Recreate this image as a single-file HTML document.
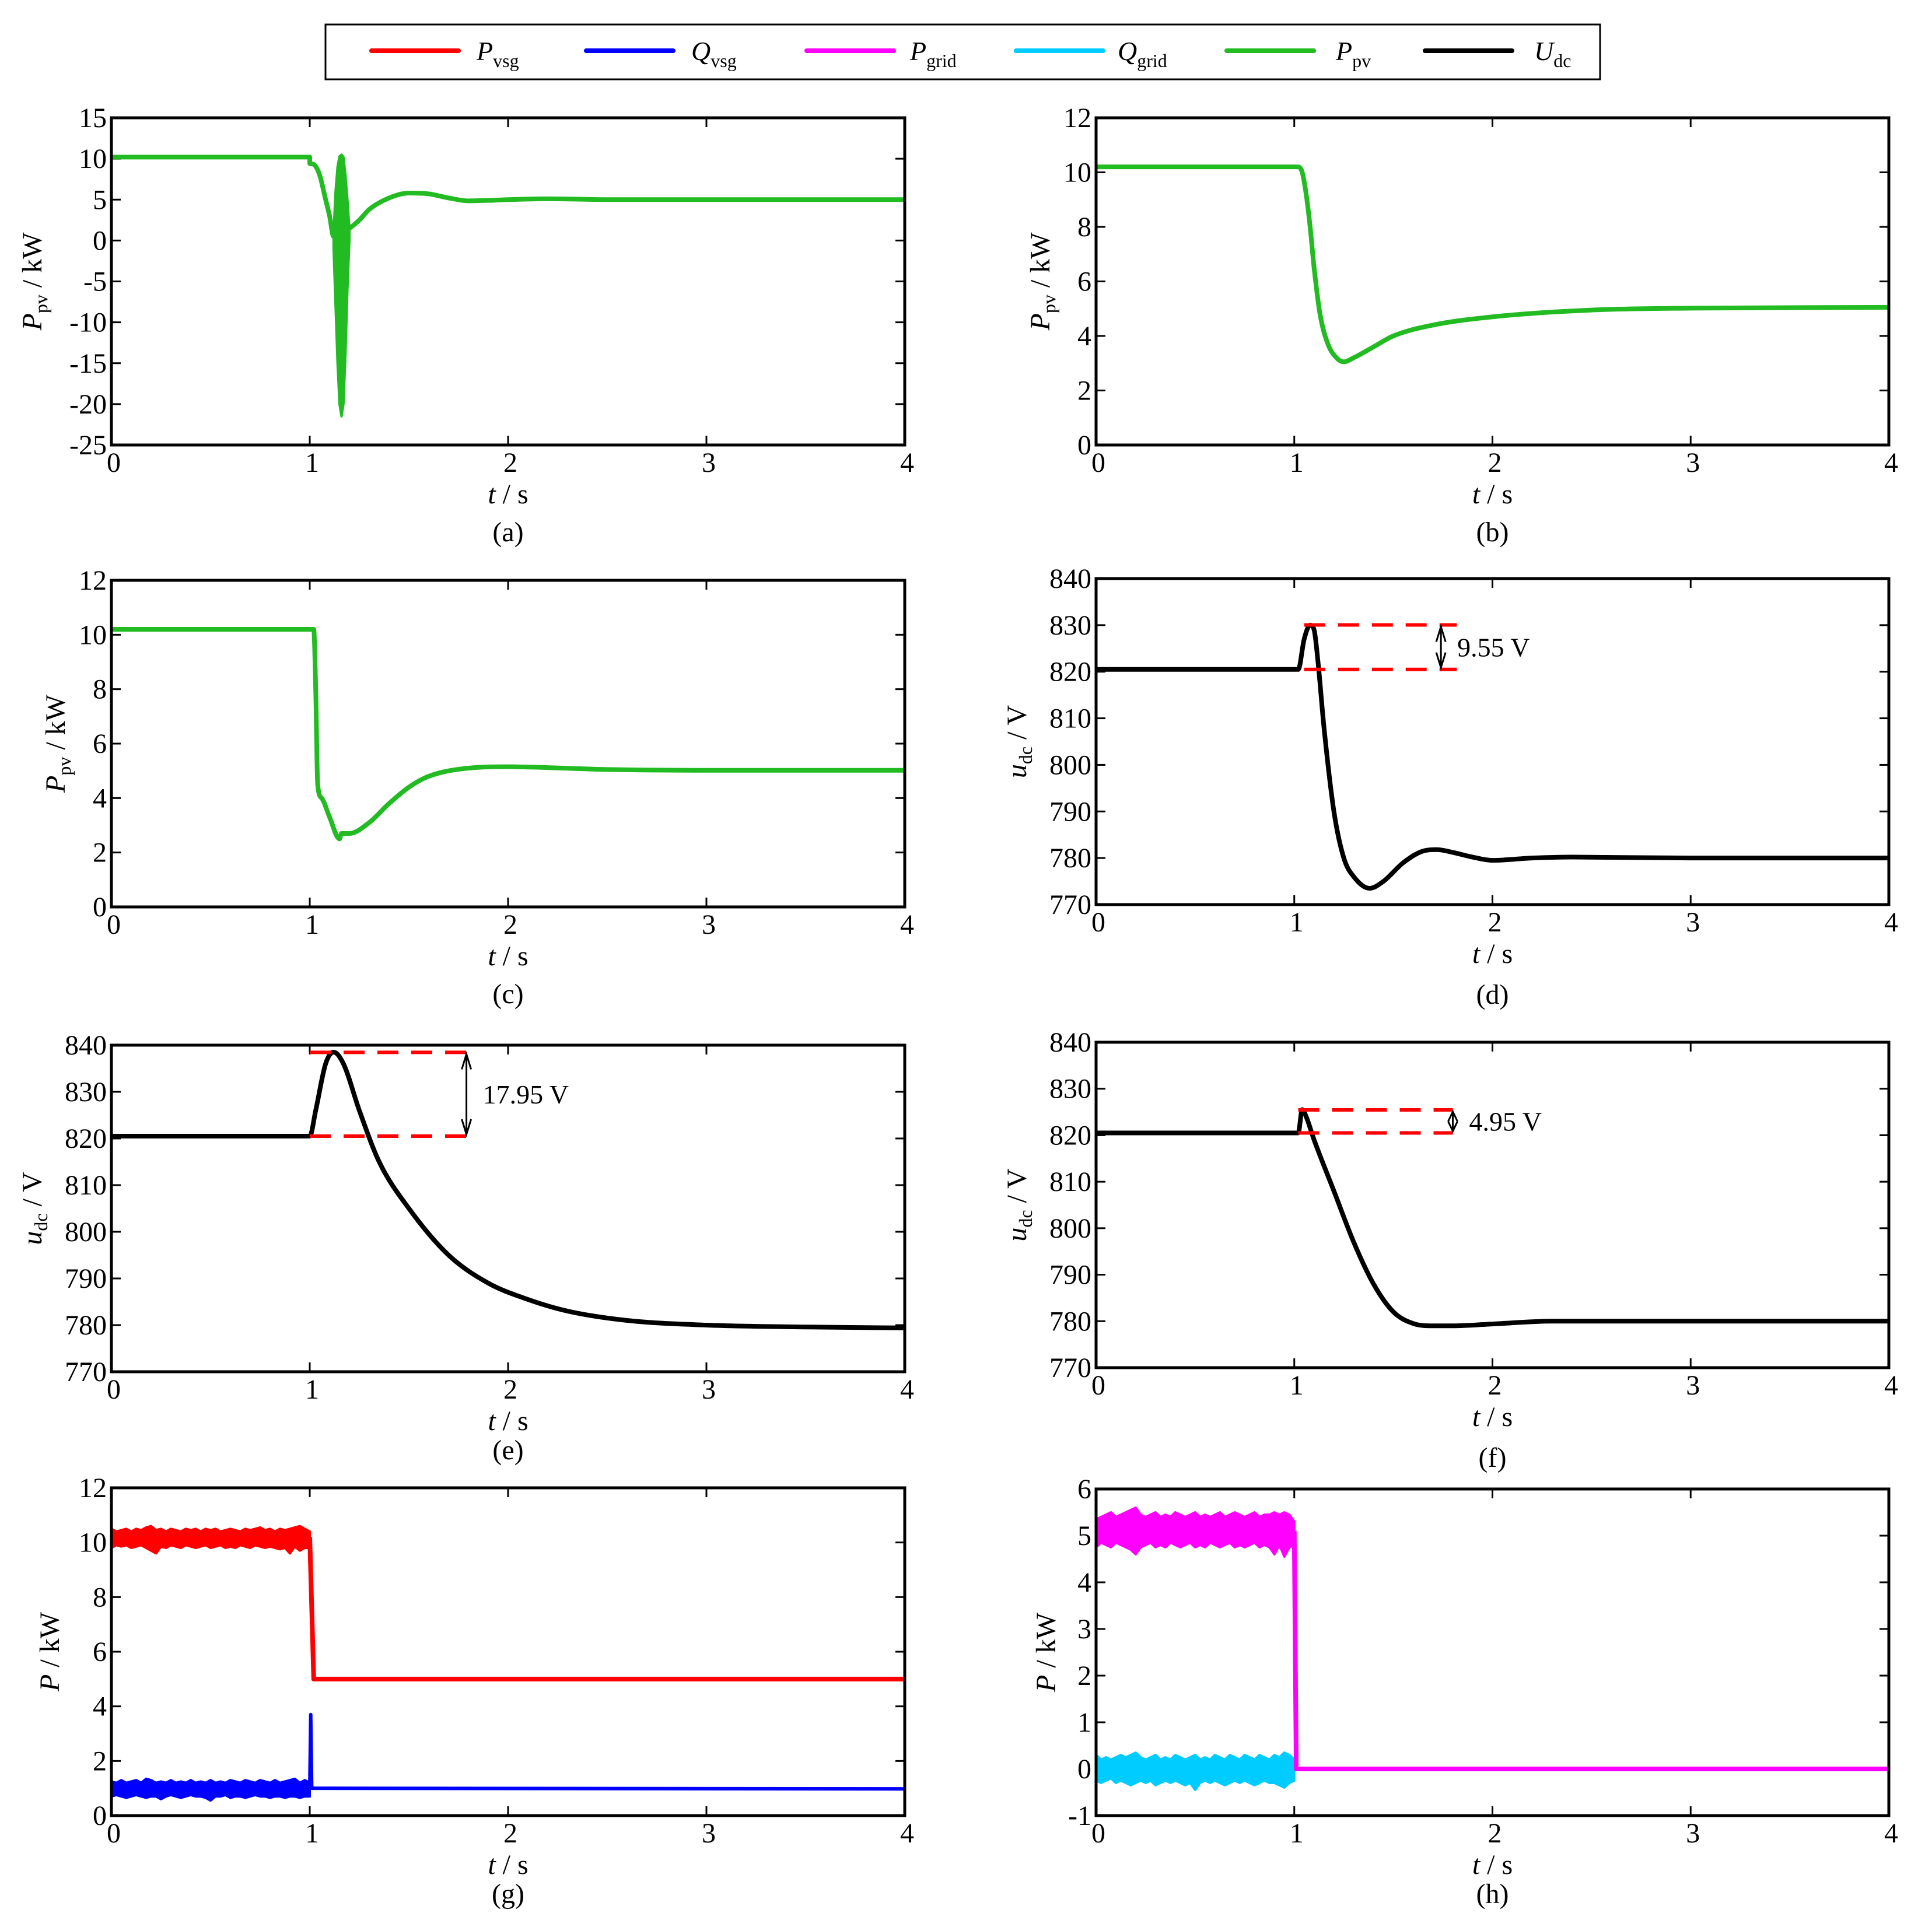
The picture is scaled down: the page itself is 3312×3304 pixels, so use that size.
<!DOCTYPE html>
<html><head><meta charset="utf-8"><style>
html,body{margin:0;padding:0;background:#fff;}
svg{display:block;font-family:"Liberation Serif",serif;}
svg text{font-family:"Liberation Serif",serif;}
</style></head><body>
<svg id="fig" width="3312" height="3304" viewBox="0 0 3312 3304" xmlns="http://www.w3.org/2000/svg" font-family="Liberation Serif, serif">
<g>
<rect x="558" y="42" width="2185" height="94" fill="#fff" stroke="#000" stroke-width="3"/>
<line x1="637" y1="87" x2="786" y2="87" stroke="#ff0000" stroke-width="8" stroke-linecap="round"/>
<text x="817" y="103" font-size="46" font-style="italic">P<tspan font-size="32" font-style="normal" dy="12">vsg</tspan></text>
<line x1="1005" y1="87" x2="1154" y2="87" stroke="#0000ff" stroke-width="8" stroke-linecap="round"/>
<text x="1185" y="103" font-size="46" font-style="italic">Q<tspan font-size="32" font-style="normal" dy="12">vsg</tspan></text>
<line x1="1383" y1="87" x2="1532" y2="87" stroke="#ff00ff" stroke-width="8" stroke-linecap="round"/>
<text x="1560" y="103" font-size="46" font-style="italic">P<tspan font-size="32" font-style="normal" dy="12">grid</tspan></text>
<line x1="1742" y1="87" x2="1891" y2="87" stroke="#00ccff" stroke-width="8" stroke-linecap="round"/>
<text x="1916" y="103" font-size="46" font-style="italic">Q<tspan font-size="32" font-style="normal" dy="12">grid</tspan></text>
<line x1="2103" y1="87" x2="2252" y2="87" stroke="#22bb22" stroke-width="8" stroke-linecap="round"/>
<text x="2290" y="103" font-size="46" font-style="italic">P<tspan font-size="32" font-style="normal" dy="12">pv</tspan></text>
<line x1="2443" y1="87" x2="2592" y2="87" stroke="#000" stroke-width="8" stroke-linecap="round"/>
<text x="2630" y="103" font-size="46" font-style="italic">U<tspan font-size="32" font-style="normal" dy="12">dc</tspan></text>
</g>
</svg>
<script>
// ---- data ----
const xTicks = [0,1,2,3,4];
const aT = [0,1.0,1.0,1.02,1.05,1.08,1.1,1.12,1.2,1.25,1.3,1.4,1.5,1.6,1.7,1.8,1.9,2.0,2.2,2.5,3,4];
const aV = [10.2,10.2,9.4,9.3,8,5,3,0.5,1.5,2.5,3.8,5.2,5.8,5.7,5.2,4.85,4.9,5.0,5.1,5.0,5.0,5.0];
const aBandT = [1.12,1.13,1.14,1.15,1.16,1.17,1.18,1.19,1.2];
const aBandHi = [1,6,9,10.3,10.5,10.2,8,5,1.5];
const aBandLo = [-1,-8,-15,-20,-21.5,-20,-14,-6,0];
const bT = [0,1.02,1.04,1.06,1.08,1.1,1.13,1.17,1.22,1.25,1.3,1.4,1.5,1.7,2.0,2.5,3,4];
const bV = [10.2,10.2,10.0,9.2,8,6.5,4.8,3.7,3.15,3.05,3.2,3.6,4.0,4.4,4.7,4.95,5.02,5.05];
const cT = [0,1.02,1.03,1.04,1.06,1.1,1.15,1.16,1.2,1.3,1.4,1.5,1.6,1.8,2.0,2.5,3,4];
const cV = [10.2,10.2,8,4.5,4.0,3.3,2.5,2.7,2.7,3.1,3.8,4.4,4.8,5.1,5.15,5.05,5.02,5.02];
const dT = [0,1.02,1.05,1.08,1.1,1.12,1.15,1.2,1.25,1.3,1.38,1.45,1.55,1.65,1.72,1.8,1.9,2.0,2.2,2.4,3,4];
const dV = [820.5,820.5,827,830,829,822,808,790,780,776,773.5,775,779,781.5,781.8,781.2,780.2,779.5,780,780.2,780,780];
const eT = [0,1.0,1.03,1.08,1.12,1.17,1.25,1.35,1.5,1.7,1.9,2.1,2.3,2.6,3,3.5,4];
const eV = [820.5,820.5,826,836,838.5,836,826,815,805,795,789,785.5,783,781,780,779.6,779.4];
const fT = [0,1.02,1.04,1.06,1.1,1.2,1.3,1.4,1.5,1.6,1.7,1.8,2.0,2.3,4];
const fV = [820.5,820.5,825.5,824,819,808,797,788,782,779.5,779,779,779.4,780,780];
const noiseT = [0,0.025,0.05,0.075,0.1,0.125,0.15,0.175,0.2,0.225,0.25,0.275,0.3,0.325,0.35,0.375,0.4,0.425,0.45,0.475,0.5,0.525,0.55,0.575,0.6,0.625,0.65,0.675,0.7,0.725,0.75,0.775,0.8,0.825,0.85,0.875,0.9,0.925,0.95,0.975,1.0];
const gPHi = [10.5,10.4,10.45,10.5,10.4,10.5,10.45,10.55,10.6,10.45,10.5,10.4,10.5,10.45,10.4,10.5,10.45,10.5,10.4,10.5,10.45,10.5,10.4,10.45,10.5,10.45,10.4,10.5,10.45,10.5,10.55,10.45,10.5,10.4,10.5,10.45,10.5,10.55,10.6,10.5,10.4];
const gPLo = [9.8,9.9,9.85,9.9,9.8,9.85,9.9,9.8,9.7,9.6,9.85,9.8,9.9,9.85,9.8,9.9,9.85,9.8,9.85,9.9,9.8,9.85,9.9,9.8,9.85,9.8,9.9,9.85,9.8,9.9,9.85,9.8,9.85,9.8,9.75,9.8,9.6,9.85,9.7,9.8,9.8];
const gPT = [1.0,1.02,4];
const gPV = [10.2,5.0,5.0];
const gQHi = [1.25,1.2,1.3,1.2,1.25,1.3,1.2,1.35,1.3,1.2,1.25,1.2,1.3,1.2,1.25,1.2,1.3,1.2,1.25,1.2,1.3,1.2,1.25,1.2,1.3,1.25,1.2,1.3,1.25,1.2,1.3,1.25,1.2,1.3,1.2,1.25,1.3,1.35,1.2,1.3,1.2];
const gQLo = [0.7,0.75,0.7,0.65,0.7,0.75,0.7,0.65,0.7,0.7,0.6,0.7,0.75,0.7,0.65,0.7,0.75,0.7,0.7,0.65,0.55,0.7,0.7,0.75,0.65,0.7,0.7,0.65,0.7,0.75,0.7,0.7,0.65,0.7,0.7,0.65,0.7,0.7,0.65,0.7,0.7];
const gQT = [1.0,1.005,1.01,1.02,4];
const gQV = [1.0,3.7,1.0,1.0,0.98];
const hPHi = [5.35,5.4,5.45,5.5,5.4,5.45,5.5,5.55,5.6,5.45,5.4,5.45,5.5,5.4,5.45,5.4,5.5,5.45,5.4,5.45,5.5,5.4,5.45,5.4,5.45,5.5,5.4,5.45,5.5,5.45,5.4,5.45,5.5,5.4,5.45,5.45,5.5,5.45,5.5,5.45,5.3];
const hPLo = [4.75,4.85,4.8,4.75,4.85,4.8,4.75,4.7,4.6,4.75,4.8,4.85,4.75,4.8,4.75,4.85,4.8,4.75,4.8,4.85,4.75,4.8,4.75,4.85,4.8,4.75,4.8,4.85,4.75,4.8,4.75,4.8,4.85,4.75,4.8,4.75,4.6,4.8,4.55,4.75,4.8];
const hQHi = [0.3,0.2,0.25,0.2,0.25,0.3,0.25,0.3,0.35,0.25,0.2,0.25,0.3,0.2,0.25,0.2,0.3,0.25,0.2,0.25,0.3,0.2,0.25,0.2,0.3,0.25,0.2,0.3,0.25,0.2,0.3,0.25,0.2,0.3,0.25,0.2,0.3,0.25,0.35,0.3,0.2];
const hQLo = [-0.25,-0.3,-0.25,-0.2,-0.3,-0.25,-0.3,-0.35,-0.3,-0.25,-0.3,-0.25,-0.35,-0.3,-0.25,-0.3,-0.25,-0.3,-0.35,-0.3,-0.45,-0.3,-0.25,-0.3,-0.25,-0.3,-0.35,-0.3,-0.25,-0.3,-0.25,-0.3,-0.35,-0.3,-0.25,-0.3,-0.3,-0.35,-0.4,-0.3,-0.25];
const hT = [1.0,1.01,4];
const hV = [5.1,0,0];

const NS = 'http://www.w3.org/2000/svg';
const svg = document.getElementById('fig');
const FF = '"Liberation Serif", serif';
function mk(tag, attrs, parent){ const e=document.createElementNS(NS,tag); for(const k in attrs) e.setAttribute(k,attrs[k]); if(tag==='text') e.style.fontFamily=FF; (parent||svg).appendChild(e); return e; }

function panel(o){
  const g = mk('g',{});
  
  
  const X = t => o.x0 + (t/4)*(o.x1-o.x0);
  const Y = v => o.y1 - (v-o.ymin)/(o.ymax-o.ymin)*(o.y1-o.y0);
  o.X=X; o.Y=Y; o.g=g;
  xTicks.forEach(t=>{
    mk('line',{x1:X(t),y1:o.y1,x2:X(t),y2:o.y1-16,stroke:'#000','stroke-width':3},g);
    mk('line',{x1:X(t),y1:o.y0,x2:X(t),y2:o.y0+16,stroke:'#000','stroke-width':3},g);
    const tx = mk('text',{x:X(t)+4,y:o.y1+46,'font-size':48,'text-anchor':'middle'},g);
    
    
    tx.textContent = t;
  });
  o.yTicks.forEach(v=>{
    mk('line',{x1:o.x0,y1:Y(v),x2:o.x0+16,y2:Y(v),stroke:'#000','stroke-width':3},g);
    mk('line',{x1:o.x1,y1:Y(v),x2:o.x1-16,y2:Y(v),stroke:'#000','stroke-width':3},g);
    const ty = mk('text',{x:o.x0-8,y:Y(v)+16,'font-size':48,'text-anchor':'end'},g);
    
    
    ty.textContent = v;
  });
  const xl = mk('text',{x:(o.x0+o.x1)/2,y:o.y1+100,'font-size':48,'text-anchor':'middle'},g);
  
  
  xl.innerHTML = '<tspan font-style="italic">t</tspan> / s';
  const cap = mk('text',{x:(o.x0+o.x1)/2,y:o.y1+(o.capdy||165),'font-size':48,'text-anchor':'middle'},g);
  
  
  cap.textContent = '('+o.id+')';
  const yl = mk('text',{transform:`translate(${o.x0-o.ylOff},${(o.y0+o.y1)/2}) rotate(-90)`,'font-size':48,'text-anchor':'middle'},g);
  
  
  yl.innerHTML = o.ylab;
  return o;
}
function frame(o){
  const r = mk('rect',{x:o.x0,y:o.y0,width:o.x1-o.x0,height:o.y1-o.y0,fill:'none',stroke:'#000','stroke-width':5},o.g);
  
  
}
// monotone cubic (Fritsch-Carlson) on x-monotone runs; vertical jumps drawn straight
function monoSeg(P){
  const n=P.length; if(n<2) return '';
  if(n===2) return ` L${P[1][0]},${P[1][1]}`;
  const d=[],m=[];
  for(let i=0;i<n-1;i++) d.push((P[i+1][1]-P[i][1])/(P[i+1][0]-P[i][0]));
  m[0]=d[0]; m[n-1]=d[n-2];
  for(let i=1;i<n-1;i++) m[i]=(d[i-1]*d[i]<=0)?0:(d[i-1]+d[i])/2;
  for(let i=0;i<n-1;i++){
    if(d[i]===0){m[i]=0;m[i+1]=0;continue;}
    const a=m[i]/d[i], b=m[i+1]/d[i], s=a*a+b*b;
    if(s>9){const t=3/Math.sqrt(s); m[i]=t*a*d[i]; m[i+1]=t*b*d[i];}
  }
  let s='';
  for(let i=0;i<n-1;i++){
    const h=(P[i+1][0]-P[i][0])/3;
    s+=` C${P[i][0]+h},${P[i][1]+m[i]*h} ${P[i+1][0]-h},${P[i+1][1]-m[i+1]*h} ${P[i+1][0]},${P[i+1][1]}`;
  }
  return s;
}
function smoothPath(P){
  let d='M'+P[0][0]+','+P[0][1];
  let run=[P[0]];
  for(let i=1;i<P.length;i++){
    if(P[i][0]-P[i-1][0]<0.5){ d+=monoSeg(run); d+=` L${P[i][0]},${P[i][1]}`; run=[P[i]]; }
    else run.push(P[i]);
  }
  d+=monoSeg(run);
  return d;
}
function line(o,T,V,color,name,w,smooth){
  const P = T.map((t,i)=>[o.X(t),o.Y(V[i])]);
  const d = smooth ? smoothPath(P) : 'M'+P.map(p=>p.join(',')).join(' L');
  const p = mk('path',{d:d,fill:'none',stroke:color,'stroke-width':w||8,'stroke-linejoin':'round'},o.g);
  
  
}
function band(o,T,H,L,color,name){
  const pts = T.map((t,i)=>o.X(t)+','+o.Y(H[i])).concat(T.slice().reverse().map((t,j)=>o.X(t)+','+o.Y(L[T.length-1-j])));
  const p = mk('polygon',{points:pts.join(' '),fill:color,stroke:color,'stroke-width':4,'stroke-linejoin':'round'},o.g);
  
  
}
function annot(o,t0,t1,ta,vHi,vLo,label,name){
  const a = mk('g',{},o.g);
  
  
  [vHi,vLo].forEach(v=>mk('line',{x1:o.X(t0),y1:o.Y(v),x2:o.X(t1),y2:o.Y(v),stroke:'#ff0000','stroke-width':6,'stroke-dasharray':'36,22'},a));
  const x=o.X(ta), y1=o.Y(vHi)+3, y2=o.Y(vLo)-3;
  mk('line',{x1:x,y1:y1,x2:x,y2:y2,stroke:'#000','stroke-width':3},a);
  const h=Math.min(26,(y2-y1)/2);
  mk('polyline',{points:`${x-8},${y1+h} ${x},${y1} ${x+8},${y1+h}`,fill:'none',stroke:'#000','stroke-width':3},a);
  mk('polyline',{points:`${x-8},${y2-h} ${x},${y2} ${x+8},${y2-h}`,fill:'none',stroke:'#000','stroke-width':3},a);
  const tx = mk('text',{x:x+28,y:(y1+y2)/2+16,'font-size':46},a);
  tx.textContent = label;
}
const Lx0=191,Lx1=1551,Rx0=1879,Rx1=3238;
const ppvLab = '<tspan font-style="italic">P</tspan><tspan font-size="32" dy="10">pv</tspan><tspan dy="-10"> / kW</tspan>';
const udcLab = '<tspan font-style="italic">u</tspan><tspan font-size="32" dy="10">dc</tspan><tspan dy="-10"> / V</tspan>';
const pLab = '<tspan font-style="italic">P</tspan> / kW';
const uTicks=[770,780,790,800,810,820,830,840];

let A = panel({id:'a',x0:Lx0,x1:Lx1,y0:202,y1:763,ymin:-25,ymax:15,yTicks:[-25,-20,-15,-10,-5,0,5,10,15],ylab:ppvLab,ylOff:120});
line(A,aT,aV,'#22bb22','ppv-line',8,true); band(A,aBandT,aBandHi,aBandLo,'#22bb22','ppv-oscillation'); frame(A);
let B = panel({id:'b',x0:Rx0,x1:Rx1,y0:202,y1:763,ymin:0,ymax:12,yTicks:[0,2,4,6,8,10,12],ylab:ppvLab,ylOff:80});
line(B,bT,bV,'#22bb22','ppv-line',8,true); frame(B);
let C = panel({id:'c',x0:Lx0,x1:Lx1,y0:995,y1:1555,ymin:0,ymax:12,yTicks:[0,2,4,6,8,10,12],ylab:ppvLab,ylOff:80});
line(C,cT,cV,'#22bb22','ppv-line',8,true); frame(C);
let D = panel({id:'d',x0:Rx0,x1:Rx1,y0:992,y1:1551,ymin:770,ymax:840,yTicks:uTicks,ylab:udcLab,ylOff:120,capdy:170});
line(D,dT,dV,'#000','udc-line',8,true); annot(D,1.05,1.82,1.74,830.05,820.5,'9.55 V','overshoot-annotation'); frame(D);
let E = panel({id:'e',x0:Lx0,x1:Lx1,y0:1792,y1:2352,ymin:770,ymax:840,yTicks:uTicks,ylab:udcLab,ylOff:120,capdy:150});
line(E,eT,eV,'#000','udc-line',8,true); annot(E,1.0,1.8,1.79,838.45,820.5,'17.95 V','overshoot-annotation'); frame(E);
let F = panel({id:'f',x0:Rx0,x1:Rx1,y0:1787,y1:2345,ymin:770,ymax:840,yTicks:uTicks,ylab:udcLab,ylOff:120,capdy:170});
line(F,fT,fV,'#000','udc-line',8,true); annot(F,1.02,1.8,1.8,825.45,820.5,'4.95 V','overshoot-annotation'); frame(F);
let G = panel({id:'g',x0:Lx0,x1:Lx1,y0:2551,y1:3113,ymin:0,ymax:12,yTicks:[0,2,4,6,8,10,12],ylab:pLab,ylOff:90,capdy:150});
band(G,noiseT,gPHi,gPLo,'#ff0000','pvsg-noise'); line(G,gPT,gPV,'#ff0000','pvsg-line');
band(G,noiseT,gQHi,gQLo,'#0000ff','qvsg-noise'); line(G,gQT,gQV,'#0000ff','qvsg-line',6); frame(G);
let H = panel({id:'h',x0:Rx0,x1:Rx1,y0:2553,y1:3113,ymin:-1,ymax:6,yTicks:[-1,0,1,2,3,4,5,6],ylab:pLab,ylOff:70,capdy:150});
band(H,noiseT,hQHi,hQLo,'#00ccff','qgrid-noise');
band(H,noiseT,hPHi,hPLo,'#ff00ff','pgrid-noise'); line(H,hT,hV,'#ff00ff','pgrid-line'); frame(H);
</script>
</body></html>
